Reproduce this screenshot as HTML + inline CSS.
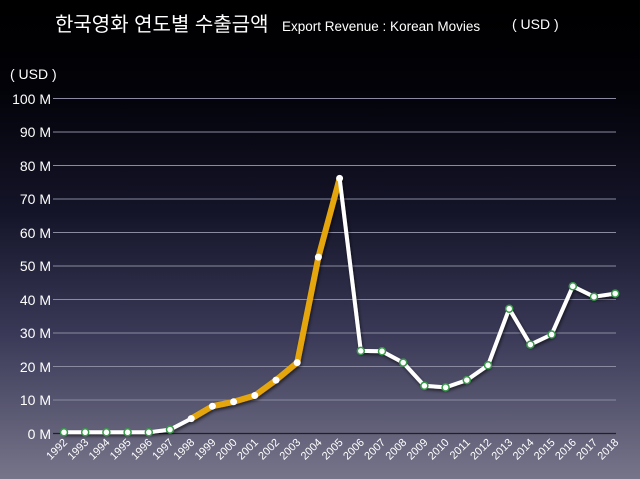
<!DOCTYPE html>
<html><head><meta charset="utf-8"><style>
html,body{margin:0;padding:0;width:640px;height:479px;overflow:hidden;}
body{background:linear-gradient(to bottom,#000 0%,#020208 18%,#15152a 45%,#3a3a58 70%,#77758a 100%);}
svg{display:block;font-family:"Liberation Sans","Noto Sans CJK KR",sans-serif;}
</style></head><body>
<svg width="640" height="479" viewBox="0 0 640 479">
<defs><filter id="sh" x="-10%" y="-10%" width="120%" height="120%"><feDropShadow dx="1" dy="2" stdDeviation="1.5" flood-color="#000" flood-opacity="0.6"/></filter></defs>
<text x="55" y="31" fill="#fff" font-size="20">한국영화 연도별 수출금액</text>
<text x="282" y="31" fill="#fff" font-size="13.5">Export Revenue : Korean Movies</text>
<text x="512" y="29" fill="#fff" font-size="14">( USD )</text>
<text x="10" y="79" fill="#fff" font-size="14">( USD )</text>
<g stroke="#8a8aa0" stroke-width="1">
<line x1="53" y1="98.5" x2="616" y2="98.5"/><line x1="53" y1="132" x2="616" y2="132"/><line x1="53" y1="165.5" x2="616" y2="165.5"/><line x1="53" y1="199" x2="616" y2="199"/><line x1="53" y1="232.5" x2="616" y2="232.5"/><line x1="53" y1="266" x2="616" y2="266"/><line x1="53" y1="299.5" x2="616" y2="299.5"/><line x1="53" y1="333" x2="616" y2="333"/><line x1="53" y1="366.5" x2="616" y2="366.5"/><line x1="53" y1="400" x2="616" y2="400"/>
</g>
<line x1="53" y1="433.5" x2="616" y2="433.5" stroke="#222" stroke-width="1.2"/>
<g fill="#fff" font-size="14" text-anchor="end">
<text x="51" y="104">100 M</text><text x="51" y="137">90 M</text><text x="51" y="171">80 M</text><text x="51" y="204">70 M</text><text x="51" y="238">60 M</text><text x="51" y="271">50 M</text><text x="51" y="305">40 M</text><text x="51" y="338">30 M</text><text x="51" y="372">20 M</text><text x="51" y="405">10 M</text><text x="51" y="439">0 M</text>
</g>
<g filter="url(#sh)" fill="none" stroke-linejoin="round" stroke-linecap="round">
<polyline stroke="#fff" stroke-width="4" points="64,432.3 85.2,432.3 106.4,432.3 127.6,432.3 148.8,432.3 170,429.6 191.2,418.6"/>
<polyline stroke="#e5a50e" stroke-width="6" points="191.2,418.6 212.4,406.2 233.6,401.8 254.8,395.5 276,380.1 297.2,362.6 318.4,257.1 339.6,178.4"/>
<polyline stroke="#fff" stroke-width="4" points="339.6,178.4 360.8,350.9 382,351.3 403.2,362.6 424.4,385.8 445.6,387.4 466.8,380.1 488,365.3 509.2,308.7 530.4,344.6 551.6,334.5 572.8,286.3 594,296.7 615.2,293.6"/>
</g>
<g fill="#fff" stroke="#3a9a4a" stroke-width="1.5">
<circle cx="64" cy="432.3" r="3.5"/><circle cx="85.2" cy="432.3" r="3.5"/><circle cx="106.4" cy="432.3" r="3.5"/><circle cx="127.6" cy="432.3" r="3.5"/><circle cx="148.8" cy="432.3" r="3.5"/><circle cx="170" cy="429.6" r="3.5"/>
<circle cx="360.8" cy="350.9" r="3.5"/><circle cx="382" cy="351.3" r="3.5"/><circle cx="403.2" cy="362.6" r="3.5"/><circle cx="424.4" cy="385.8" r="3.5"/><circle cx="445.6" cy="387.4" r="3.5"/><circle cx="466.8" cy="380.1" r="3.5"/><circle cx="488" cy="365.3" r="3.5"/><circle cx="509.2" cy="308.7" r="3.5"/><circle cx="530.4" cy="344.6" r="3.5"/><circle cx="551.6" cy="334.5" r="3.5"/><circle cx="572.8" cy="286.3" r="3.5"/><circle cx="594" cy="296.7" r="3.5"/><circle cx="615.2" cy="293.6" r="3.5"/>
</g>
<g fill="#fff">
<circle cx="191.2" cy="418.6" r="3.5"/><circle cx="212.4" cy="406.2" r="3.5"/><circle cx="233.6" cy="401.8" r="3.5"/><circle cx="254.8" cy="395.5" r="3.5"/><circle cx="276" cy="380.1" r="3.5"/><circle cx="297.2" cy="362.6" r="3.5"/><circle cx="318.4" cy="257.1" r="3.5"/><circle cx="339.6" cy="178.4" r="3.5"/>
</g>
<g fill="#fff" font-size="11" text-anchor="end">
<text transform="translate(68,443) rotate(-45)">1992</text>
<text transform="translate(89.2,443) rotate(-45)">1993</text>
<text transform="translate(110.4,443) rotate(-45)">1994</text>
<text transform="translate(131.6,443) rotate(-45)">1995</text>
<text transform="translate(152.8,443) rotate(-45)">1996</text>
<text transform="translate(174,443) rotate(-45)">1997</text>
<text transform="translate(195.2,443) rotate(-45)">1998</text>
<text transform="translate(216.4,443) rotate(-45)">1999</text>
<text transform="translate(237.6,443) rotate(-45)">2000</text>
<text transform="translate(258.8,443) rotate(-45)">2001</text>
<text transform="translate(280,443) rotate(-45)">2002</text>
<text transform="translate(301.2,443) rotate(-45)">2003</text>
<text transform="translate(322.4,443) rotate(-45)">2004</text>
<text transform="translate(343.6,443) rotate(-45)">2005</text>
<text transform="translate(364.8,443) rotate(-45)">2006</text>
<text transform="translate(386,443) rotate(-45)">2007</text>
<text transform="translate(407.2,443) rotate(-45)">2008</text>
<text transform="translate(428.4,443) rotate(-45)">2009</text>
<text transform="translate(449.6,443) rotate(-45)">2010</text>
<text transform="translate(470.8,443) rotate(-45)">2011</text>
<text transform="translate(492,443) rotate(-45)">2012</text>
<text transform="translate(513.2,443) rotate(-45)">2013</text>
<text transform="translate(534.4,443) rotate(-45)">2014</text>
<text transform="translate(555.6,443) rotate(-45)">2015</text>
<text transform="translate(576.8,443) rotate(-45)">2016</text>
<text transform="translate(598,443) rotate(-45)">2017</text>
<text transform="translate(619.2,443) rotate(-45)">2018</text>
</g>
</svg>
</body></html>
